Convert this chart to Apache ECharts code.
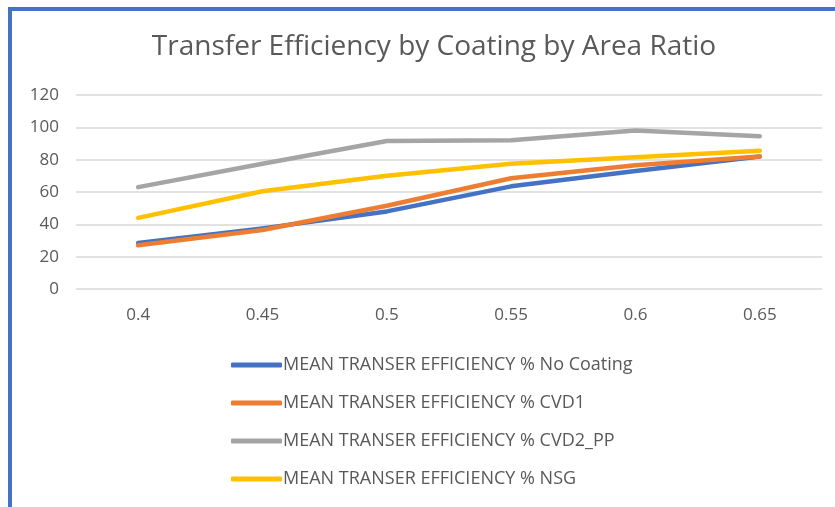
<!DOCTYPE html>
<html>
<head>
<meta charset="utf-8">
<style>
  html, body { margin: 0; padding: 0; background: #ffffff; }
  #chart { width: 835px; height: 507px; }
</style>
<script src="https://cdn.jsdelivr.net/npm/echarts@6/dist/echarts.min.js"></script>
</head>
<body>
<div id="chart"></div>
<script>
// Area ratio categories on the x axis
const areaRatios = ['0.4', '0.45', '0.5', '0.55', '0.6', '0.65'];

// Mean transfer efficiency (%) per coating
const noCoating = [28.5, 37.5, 48, 63.5, 73, 82];
const cvd1      = [27, 36.5, 51.5, 68.5, 76.5, 82];
const cvd2pp    = [63, 77.5, 91.5, 92, 98, 94.5];
const nsg       = [44, 60.5, 70, 77.5, 81.5, 85.5];

const seriesNames = [
  'MEAN TRANSER EFFICIENCY % No Coating',
  'MEAN TRANSER EFFICIENCY % CVD1',
  'MEAN TRANSER EFFICIENCY % CVD2_PP',
  'MEAN TRANSER EFFICIENCY % NSG'
];
const seriesColors = ['#4472C4', '#ED7D31', '#A5A5A5', '#FFC000'];
const seriesData = [noCoating, cvd1, cvd2pp, nsg];

const font = 'Open Sans';
const chart = echarts.init(document.getElementById('chart'));

chart.setOption({
  animation: false,
  backgroundColor: '#ffffff',
  textStyle: { fontFamily: font },
  title: {
    text: 'Transfer Efficiency by Coating by Area Ratio',
    left: 429,
    textAlign: 'center',
    top: 28,
    textStyle: { fontFamily: font, fontSize: 28, fontWeight: 'normal', color: '#595959' }
  },
  graphic: [
    // frame edges along the top and left
    { type: 'rect', left: 8, top: 7, shape: { width: 827, height: 4 }, style: { fill: '#4472C4' } },
    { type: 'rect', left: 8, top: 7, shape: { width: 4, height: 500, r: [3, 0, 0, 0] }, style: { fill: '#4472C4' } }
  ],
  grid: { left: 76, right: 13, top: 95, bottom: 218 },
  xAxis: {
    type: 'category',
    data: areaRatios,
    boundaryGap: true,
    axisLine: { show: false },
    axisTick: { show: false },
    axisLabel: { color: '#595959', fontSize: 17, margin: 18, fontFamily: font }
  },
  yAxis: {
    type: 'value',
    min: 0,
    max: 120,
    interval: 20,
    axisLine: { show: false },
    axisTick: { show: false },
    axisLabel: { color: '#595959', fontSize: 17, margin: 17, fontFamily: font },
    splitLine: { lineStyle: { color: '#D9D9D9', width: 1.5 } }
  },
  legend: {
    orient: 'vertical',
    left: 226,
    top: 351,
    itemGap: 20,
    itemWidth: 51,
    itemHeight: 5,
    icon: 'roundRect',
    textStyle: { color: '#595959', fontSize: 18, fontFamily: font, padding: [0, 0, 0, -4] },
    data: seriesNames
  },
  series: seriesNames.map((name, i) => ({
    name: name,
    type: 'line',
    data: seriesData[i],
    showSymbol: false,
    symbol: 'none',
    color: seriesColors[i],
    lineStyle: { width: 4.5, color: seriesColors[i], cap: 'round', join: 'round' },
    z: i === 0 ? 2 : 3
  }))
});
</script>
</body>
</html>
